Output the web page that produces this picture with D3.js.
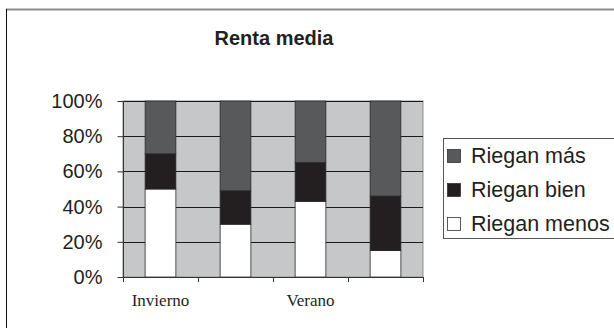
<!DOCTYPE html>
<html>
<head>
<meta charset="utf-8">
<script src="https://cdn.jsdelivr.net/npm/d3@7"></script>
<style>
  html, body { margin: 0; padding: 0; background: #fff; }
  svg { display: block; }
</style>
</head>
<body>
<svg id="chart" width="614" height="328"></svg>
<script>
// Season labels (only alternate bars carry a label)
const categories = ["Invierno", "", "Verano", ""];
// Share of each irrigation group per bar, in percent
const rieganMenos = [50, 30, 43, 15];
const rieganBien  = [20, 19, 22, 31];
const rieganMas   = [30, 51, 35, 54];
const seriesNames = ["Riegan menos", "Riegan bien", "Riegan más"];
const yTicks = [0, 20, 40, 60, 80, 100];

const colors = {
  "Riegan menos": "#ffffff",
  "Riegan bien": "#231f20",
  "Riegan más": "#58595b"
};

const svg = d3.select("#chart");
const W = 614, H = 328;
const plot = { left: 123, right: 423, top: 101, bottom: 277 };

// chart frame: grey top rule and black left rule
svg.append("line").attr("x1", 6).attr("x2", W).attr("y1", 9.5).attr("y2", 9.5)
  .attr("stroke", "#8a8a8a").attr("stroke-width", 2);
svg.append("line").attr("x1", 6.5).attr("x2", 6.5).attr("y1", 9).attr("y2", H)
  .attr("stroke", "#111").attr("stroke-width", 1);

// title
svg.append("text").attr("x", 274).attr("y", 45).attr("text-anchor", "middle")
  .attr("font-family", "Liberation Sans, Arial, sans-serif").attr("font-weight", "bold")
  .attr("font-size", 20).attr("fill", "#231f20").text("Renta media");

const rows = categories.map((c, i) => ({
  key: i, cat: c,
  "Riegan menos": rieganMenos[i],
  "Riegan bien": rieganBien[i],
  "Riegan más": rieganMas[i]
}));

const x = d3.scaleBand().domain(rows.map(d => d.key))
  .range([plot.left, plot.right]).paddingInner(0.59).paddingOuter(0.295);
const xOuter = d3.scaleBand().domain(rows.map(d => d.key))
  .range([plot.left, plot.right]).padding(0);
const y = d3.scaleLinear().domain([0, 100]).range([plot.bottom, plot.top]);

// plot background
svg.append("rect").attr("x", plot.left).attr("y", plot.top)
  .attr("width", plot.right - plot.left).attr("height", plot.bottom - plot.top)
  .attr("fill", "#c6c7c8").attr("stroke", "#8f8f8f").attr("stroke-width", 1);

// horizontal gridlines
svg.append("g").selectAll("line").data(yTicks.filter(t => t > 0)).join("line")
  .attr("x1", plot.left).attr("x2", plot.right)
  .attr("y1", d => Math.round(y(d)) + 0.5).attr("y2", d => Math.round(y(d)) + 0.5)
  .attr("stroke", "#1a1a1a").attr("stroke-width", 1);

// stacked bars
const stack = d3.stack().keys(seriesNames)(rows);
svg.append("g").selectAll("g").data(stack).join("g")
  .attr("fill", d => colors[d.key])
  .selectAll("rect").data(d => d).join("rect")
  .attr("x", d => x(d.data.key))
  .attr("y", d => y(d[1]))
  .attr("width", x.bandwidth())
  .attr("height", d => y(d[0]) - y(d[1]))
  .attr("stroke", "#2a2a2a").attr("stroke-width", 0.8);

// y axis
const yAxis = d3.axisLeft(y).tickValues(yTicks).tickFormat(d => d + "%")
  .tickSize(6).tickPadding(15);
const gy = svg.append("g").attr("transform", `translate(${plot.left + 0.5},0)`).call(yAxis);
gy.select(".domain").attr("stroke", "#333").attr("d", `M0,${plot.top}V${plot.bottom}`);
gy.selectAll(".tick line").attr("stroke", "#333");
gy.selectAll(".tick text").attr("font-family", "Liberation Sans, Arial, sans-serif")
  .attr("font-size", 20).attr("fill", "#231f20");

// x axis: ticks on band boundaries, labels at band centres
const bounds = xOuter.domain().map(k => xOuter(k)).concat([plot.right]);
const gx = svg.append("g");
gx.append("line").attr("x1", plot.left).attr("x2", plot.right)
  .attr("y1", plot.bottom + 0.5).attr("y2", plot.bottom + 0.5).attr("stroke", "#333");
gx.selectAll("line.tk").data(bounds).join("line").attr("class", "tk")
  .attr("x1", d => d + 0.5).attr("x2", d => d + 0.5)
  .attr("y1", plot.bottom).attr("y2", plot.bottom + 5).attr("stroke", "#333");
gx.selectAll("text").data(rows).join("text")
  .attr("x", d => xOuter(d.key) + xOuter.bandwidth() / 2)
  .attr("y", 306).attr("text-anchor", "middle")
  .attr("font-family", "Liberation Serif, Times New Roman, serif")
  .attr("font-size", 17).attr("fill", "#231f20").text(d => d.cat);

// legend
const legend = svg.append("g");
legend.append("rect").attr("x", 443.5).attr("y", 138.5).attr("width", 180).attr("height", 100)
  .attr("fill", "#fff").attr("stroke", "#555").attr("stroke-width", 1);
const legendOrder = ["Riegan más", "Riegan bien", "Riegan menos"];
const li = legend.selectAll("g.item").data(legendOrder).join("g").attr("class", "item")
  .attr("transform", (d, i) => `translate(0,${163 + i * 34})`);
li.append("rect").attr("x", 447.5).attr("y", -13.5).attr("width", 13).attr("height", 13)
  .attr("fill", d => colors[d]).attr("stroke", "#333").attr("stroke-width", 0.8);
li.append("text").attr("x", 471).attr("y", 0)
  .attr("font-family", "Liberation Sans, Arial, sans-serif").attr("font-size", 21.5)
  .attr("fill", "#231f20").text(d => d);
</script>
</body>
</html>
